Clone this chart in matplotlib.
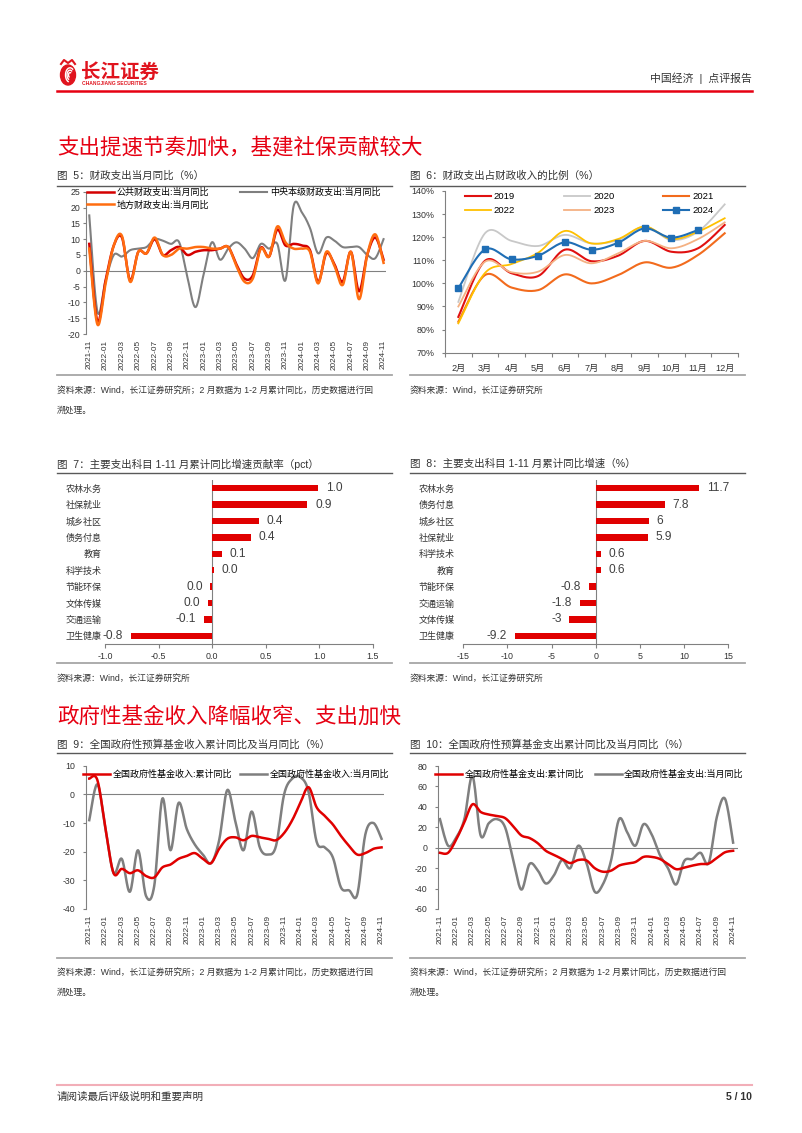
import numpy as np
import pandas as pd
import matplotlib
matplotlib.use('Agg')
import matplotlib.pyplot as plt
from matplotlib.lines import Line2D
from matplotlib.patches import Ellipse, Arc

plt.rcParams['font.family'] = ['Liberation Sans', 'Noto Sans CJK SC']
plt.rcParams['axes.unicode_minus'] = False

# ---------------- data ----------------
months = [p.strftime('%Y-%m') for p in pd.period_range('2021-11', '2024-11', freq='M')]

# Fig 5: 财政支出当月同比 (%)
fiscal_public = [8.5, -16.0, -3.0, 8.0, 10.5, -3.0, 6.0, 5.5, 10.0, 5.0, 6.5, 7.5,
                 5.0, 6.0, 6.5, 6.5, 7.0, 7.5, 2.0, -2.5, -1.5, 7.3, 4.5, 13.0,
                 8.0, 8.5, 8.0, 6.5, -3.5, 5.5, 2.0, -3.5, 6.0, -6.5, 5.0, 10.5, 3.5]
fiscal_central = [17.5, -13.0, -3.0, 5.0, 4.5, 6.5, 7.0, 7.5, 10.0, 9.5, 8.5, 9.0,
                  -2.0, -11.5, -1.0, 9.0, 3.5, 7.0, 9.0, 7.0, 4.0, 8.5, 7.0, 8.5,
                  -3.0, 20.5, 18.5, 13.5, 5.5, 10.5, 9.5, 7.5, 7.5, 7.5, 5.0, 4.0, 10.0]
fiscal_local = [7.0, -17.0, -4.0, 8.0, 11.0, -3.5, 6.0, 5.5, 10.5, 5.0, 5.0, 7.0,
                7.0, 7.5, 7.5, 7.0, 7.0, 7.5, 1.5, -3.5, -2.5, 7.0, 4.5, 14.0,
                9.0, 7.0, 7.0, 6.0, -4.0, 6.0, 1.5, -4.5, 6.0, -9.0, 5.0, 11.5, 2.5]

# Fig 6: 财政支出占财政收入的比例 (%)
ratio_months = ['2月', '3月', '4月', '5月', '6月', '7月', '8月', '9月', '10月', '11月', '12月']
ratio_2019 = [85.5, 109.8, 104.4, 103.2, 114.6, 109.6, 112.0, 118.4, 113.7, 115.2, 125.3]
ratio_2020 = [92.0, 121.7, 118.4, 116.2, 121.0, 117.3, 118.8, 124.6, 118.8, 122.4, 134.2]
ratio_2021 = [83.4, 103.6, 98.2, 97.1, 103.9, 100.0, 103.6, 109.1, 106.8, 112.3, 121.7]
ratio_2022 = [82.7, 104.5, 108.4, 113.3, 122.7, 117.3, 119.2, 124.6, 119.2, 122.4, 128.2]
ratio_2023 = [90.0, 109.4, 104.8, 105.1, 112.3, 108.7, 113.0, 118.4, 115.2, 119.2, 126.4]
ratio_2024 = [97.9, 114.7, 110.4, 112.0, 117.8, 114.6, 117.6, 123.8, 119.8, 123.1]

# Fig 7: 贡献率 (pct)
contrib_cats = ['农林水务', '社保就业', '城乡社区', '债务付息', '教育', '科学技术',
                '节能环保', '文体传媒', '交通运输', '卫生健康']
contrib_vals = [0.99, 0.89, 0.44, 0.36, 0.09, 0.02, -0.015, -0.04, -0.08, -0.76]
contrib_labels = ['1.0', '0.9', '0.4', '0.4', '0.1', '0.0', '0.0', '0.0', '-0.1', '-0.8']

# Fig 8: 累计同比增速 (%)
growth_cats = ['农林水务', '债务付息', '城乡社区', '社保就业', '科学技术', '教育',
               '节能环保', '交通运输', '文体传媒', '卫生健康']
growth_vals = [11.7, 7.8, 6.0, 5.9, 0.6, 0.6, -0.8, -1.8, -3.0, -9.2]
growth_labels = ['11.7', '7.8', '6', '5.9', '0.6', '0.6', '-0.8', '-1.8', '-3', '-9.2']

# Fig 9: 政府性基金收入
fund_rev_cum = [5.5, 5.0, -12.0, -27.5, -26.0, -27.5, -26.5, -28.5, -29.0, -25.5, -24.5, -22.5,
                -21.5, -20.5, -22.5, -24.0, -19.0, -15.5, -15.0, -16.0, -14.5, -15.0, -15.5, -16.0,
                -13.5, -9.0, -3.0, 2.5, -4.5, -7.5, -10.5, -14.5, -18.0, -21.0, -20.5, -19.0, -18.5]
fund_rev_mon = [-9.0, 3.5, -12.0, -27.5, -22.5, -34.0, -19.5, -35.5, -32.0, -1.5, -19.5, -3.0,
                -12.0, -17.5, -21.0, -24.0, -16.0, 1.5, -9.5, -19.5, -6.0, -18.5, -21.0, -18.0,
                0.0, 5.5, 6.0, 1.0, -16.5, -18.5, -22.0, -32.5, -33.5, -35.0, -14.0, -10.0, -15.5]

# Fig 10: 政府性基金支出
fund_exp_cum = [-5.0, -5.0, 8.0, 25.0, 42.5, 35.0, 32.5, 31.0, 29.0, 21.0, 12.0, 9.5,
                4.5, -3.0, -7.0, -11.0, -15.0, -12.0, -12.5, -20.0, -23.5, -22.5, -17.5, -15.5,
                -14.0, -9.0, -9.0, -11.0, -16.0, -21.0, -19.5, -17.5, -16.0, -15.5, -10.0, -4.5, -3.0]
fund_exp_mon = [28.0, 2.0, 10.0, 28.0, 70.0, 12.0, 24.0, 28.0, 20.0, -12.0, -41.0, -16.0,
                -22.0, -35.0, -27.0, -12.0, -20.0, 2.0, -15.0, -43.0, -36.0, -13.0, 28.0, 15.0,
                2.0, 23.0, 13.0, -7.0, -20.0, -36.0, -13.0, -11.0, -5.0, -15.0, 30.0, 48.0, 5.0]

# ---------------- helpers ----------------
W, H = 802, 1133
fig = plt.figure(figsize=(W / 100, H / 100), dpi=100)

RED = '#E60012'
TXT = '#333333'
AXC = '#808080'


def rect(l, t, r, b):
    return [l / W, 1 - b / H, (r - l) / W, (b - t) / H]


def smooth(y, n=16):
    y = np.asarray(y, float)
    x = np.arange(len(y), dtype=float)
    P = np.column_stack([x, y])
    P = np.vstack([P[0], P, P[-1]])
    t = np.linspace(0, 1, n, endpoint=False)[:, None]
    segs = []
    for i in range(1, len(P) - 2):
        p0, p1, p2, p3 = P[i - 1], P[i], P[i + 1], P[i + 2]
        seg = 0.5 * (2 * p1 + (-p0 + p2) * t + (2 * p0 - 5 * p1 + 4 * p2 - p3) * t ** 2
                     + (-p0 + 3 * p1 - 3 * p2 + p3) * t ** 3)
        segs.append(seg)
    segs.append(P[-2][None, :])
    S = np.vstack(segs)
    return S[:, 0], S[:, 1]


# background / page axes (pixel coordinates)
bg = fig.add_axes([0, 0, 1, 1])
bg.set_xlim(0, W)
bg.set_ylim(H, 0)
bg.axis('off')

# logo
bg.add_patch(Ellipse((68, 75), 15, 20, color='#E0141E'))
for r in (9, 6, 3):
    bg.add_patch(Arc((70, 75), r, r * 1.6, theta1=100, theta2=300, color='white', lw=1))
bg.plot([61, 64, 68, 72, 75], [64, 60, 63, 60, 64], color='#E0141E', lw=1.5)
bg.text(81, 72, '长江证券', fontsize=14, fontweight='bold', color='#E0141E', va='center', ha='left',
        family=['Noto Sans CJK SC'])
bg.text(82, 83.5, 'CHANGJIANG SECURITIES', fontsize=3.6, fontweight='bold', color='#E0141E',
        va='center', ha='left')
bg.text(752, 78, '中国经济  |  点评报告', fontsize=7.8, color=TXT, va='center', ha='right')
bg.plot([57, 752], [91, 91], color=RED, lw=1.8)

# section titles
bg.text(57, 148, '支出提速节奏加快，基建社保贡献较大', fontsize=15.5, color=RED, va='center', ha='left')
bg.text(57, 717, '政府性基金收入降幅收窄、支出加快', fontsize=15.5, color=RED, va='center', ha='left')

LEFT = (57, 392)
RIGHT = (410, 745)


def frame(xr, title, t_y, line_y, sep_y, src_y, src_lines):
    bg.text(xr[0], t_y, title, fontsize=7.6, color=TXT, va='center', ha='left')
    bg.plot([xr[0], xr[1]], [line_y, line_y], color='#595959', lw=1.0)
    bg.plot([xr[0], xr[1]], [sep_y, sep_y], color='#A6A6A6', lw=1.3)
    for k, s in enumerate(src_lines):
        bg.text(xr[0], src_y + 20 * k, s, fontsize=6.3, color=TXT, va='center', ha='left')


SRC_LONG = ['资料来源：Wind，长江证券研究所；2 月数据为 1-2 月累计同比，历史数据进行回', '溯处理。']
SRC_SHORT = ['资料来源：Wind，长江证券研究所']

frame(LEFT, '图  5：财政支出当月同比（%）', 176, 186, 375, 390, SRC_LONG)
frame(RIGHT, '图  6：财政支出占财政收入的比例（%）', 176, 186, 375, 390, SRC_SHORT)
frame(LEFT, '图  7：主要支出科目 1-11 月累计同比增速贡献率（pct）', 464, 473, 663, 678, SRC_SHORT)
frame(RIGHT, '图  8：主要支出科目 1-11 月累计同比增速（%）', 464, 473, 663, 678, SRC_SHORT)
frame(LEFT, '图  9：全国政府性预算基金收入累计同比及当月同比（%）', 745, 753, 958, 972, SRC_LONG)
frame(RIGHT, '图  10：全国政府性预算基金支出累计同比及当月同比（%）', 745, 753, 958, 972, SRC_LONG)

# footer
bg.plot([57, 752], [1085, 1085], color='#F2AEB8', lw=1.5)
bg.text(57, 1097, '请阅读最后评级说明和重要声明', fontsize=7.6, color=TXT, va='center', ha='left')
bg.text(752, 1097, '5 / 10', fontsize=7.6, color=TXT, va='center', ha='right', fontweight='bold')


def style_ts(ax, ylim, yticks, ypad):
    ax.set_facecolor('none')
    for s in ('top', 'right', 'bottom'):
        ax.spines[s].set_visible(False)
    ax.spines['left'].set_color(AXC)
    ax.spines['left'].set_linewidth(0.8)
    ax.axhline(0, color=AXC, lw=0.8, zorder=1)
    ax.set_ylim(*ylim)
    ax.set_yticks(yticks)
    ax.tick_params(axis='y', length=2.5, width=0.8, color=AXC, labelsize=6.3, pad=ypad, labelcolor=TXT)
    idx = list(range(0, len(months), 2))
    ax.set_xticks(idx)
    ax.set_xticklabels([months[i] for i in idx], rotation=90)
    ax.tick_params(axis='x', length=0, labelsize=5.9, pad=4, labelcolor=TXT)


# ---------------- Fig 5 ----------------
ax5 = fig.add_axes(rect(86, 191.7, 386, 334))
style_ts(ax5, (-20, 25), range(-20, 26, 5), 1.5)
ax5.set_xlim(-0.4, 36.3)
h1, = ax5.plot(*smooth(fiscal_public), color='#D40000', lw=1.8, label='公共财政支出:当月同比', zorder=3)
h2, = ax5.plot(*smooth(fiscal_central), color='#7F7F7F', lw=1.5, label='中央本级财政支出:当月同比', zorder=2)
h3, = ax5.plot(*smooth(fiscal_local), color='#FF6D10', lw=1.8, label='地方财政支出:当月同比', zorder=4)
ax5.legend([h1, h3, h2], [h1.get_label(), h3.get_label(), h2.get_label()],
           loc='upper left', bbox_to_anchor=(86.7 / W, 1 - 188 / H), bbox_transform=fig.transFigure,
           ncol=2, frameon=False, fontsize=6.5, handlelength=3.0, handletextpad=0.35,
           columnspacing=3.4, labelspacing=0.35, borderpad=0, borderaxespad=0)

# ---------------- Fig 6 ----------------
ax6 = fig.add_axes(rect(445, 191, 738, 352.7))
ax6.set_facecolor('none')
for s in ('top', 'right'):
    ax6.spines[s].set_visible(False)
for s in ('left', 'bottom'):
    ax6.spines[s].set_color(AXC)
    ax6.spines[s].set_linewidth(0.8)
ax6.set_xlim(-0.5, 10.5)
ax6.set_ylim(70, 140)
ax6.set_yticks(range(70, 141, 10))
ax6.set_yticklabels([f'{v}%' for v in range(70, 141, 10)])
ax6.set_xticks(range(len(ratio_months)))
ax6.set_xticklabels(ratio_months)
ax6.set_xticks(np.arange(-0.5, 11, 1), minor=True)
ax6.tick_params(axis='x', which='major', length=0, pad=8, labelsize=6.6, labelcolor=TXT)
ax6.tick_params(axis='x', which='minor', length=3, width=0.8, color=AXC)
ax6.tick_params(axis='y', length=2.5, width=0.8, color=AXC, pad=5, labelsize=6.4, labelcolor=TXT)
series6 = [('2019', ratio_2019, '#E01010', 1.5), ('2020', ratio_2020, '#C8C8C8', 1.3),
           ('2021', ratio_2021, '#F26B1D', 1.5), ('2022', ratio_2022, '#FFC000', 1.3),
           ('2023', ratio_2023, '#F4B183', 1.3)]
handles6 = []
for name, vals, col, lw in series6:
    ax6.plot(*smooth(vals), color=col, lw=lw)
    handles6.append(Line2D([], [], color=col, lw=lw))
ax6.plot(*smooth(ratio_2024), color='#1F6EB5', lw=1.5, zorder=5)
ax6.plot(range(len(ratio_2024)), ratio_2024, ls='none', marker='s', ms=4.6, color='#1F6EB5', zorder=6)
handles6.append(Line2D([], [], color='#1F6EB5', lw=1.5, marker='s', ms=4.6))
labels6 = ['2019', '2020', '2021', '2022', '2023', '2024']
order = [0, 3, 1, 4, 2, 5]
ax6.legend([handles6[i] for i in order], [labels6[i] for i in order],
           loc='upper left', bbox_to_anchor=(465 / W, 1 - 192 / H), bbox_transform=fig.transFigure,
           ncol=3, frameon=False, fontsize=6.8, handlelength=2.7, handletextpad=0.35,
           columnspacing=5.2, labelspacing=0.55, borderpad=0, borderaxespad=0)


# ---------------- bar charts ----------------
def bar_chart(axr, cats, vals, labels, xlim, xticks, xfmt, ypad):
    ax = fig.add_axes(rect(*axr))
    ax.set_facecolor('none')
    n = len(cats)
    ax.barh(range(n), vals, height=0.4, color='#E00000', zorder=3)
    ax.set_ylim(n - 0.5, -0.5)
    ax.set_xlim(*xlim)
    for s in ('top', 'right', 'left'):
        ax.spines[s].set_visible(False)
    ax.spines['bottom'].set_color(AXC)
    ax.spines['bottom'].set_linewidth(0.8)
    ax.axvline(0, color=AXC, lw=0.8, zorder=2)
    ax.set_yticks(range(n))
    ax.set_yticklabels(cats)
    ax.tick_params(axis='y', length=0, pad=ypad, labelsize=6.5, labelcolor=TXT)
    ax.set_xticks(xticks)
    ax.set_xticklabels([xfmt(v) for v in xticks])
    ax.tick_params(axis='x', length=3, width=0.8, color=AXC, labelsize=6.4, pad=3, labelcolor=TXT)
    for i, (v, lab) in enumerate(zip(vals, labels)):
        off = 5.5 if v >= 0 else -5.5
        ax.annotate(lab, (v, i), xytext=(off, 0), textcoords='offset points',
                    ha='left' if v >= 0 else 'right', va='center', fontsize=8.6, color='#404040')
    return ax


bar_chart((105, 480, 372.7, 644), contrib_cats, contrib_vals, contrib_labels,
          (-1.0, 1.5), [-1.0, -0.5, 0.0, 0.5, 1.0, 1.5], lambda v: f'{v:.1f}', 2.5)
bar_chart((463.3, 480, 728.3, 644), growth_cats, growth_vals, growth_labels,
          (-15, 15), [-15, -10, -5, 0, 5, 10, 15], lambda v: f'{v:d}', 6)

# ---------------- Fig 9 ----------------
ax9 = fig.add_axes(rect(86, 765.7, 384, 909))
style_ts(ax9, (-40, 10), range(-40, 11, 10), 5.5)
ax9.set_xlim(-0.4, 36.3)
g1, = ax9.plot(*smooth(fund_rev_mon), color='#7F7F7F', lw=1.8, label='全国政府性基金收入:当月同比', zorder=2)
r1, = ax9.plot(*smooth(fund_rev_cum), color='#E00000', lw=1.8, label='全国政府性基金收入:累计同比', zorder=3)
ax9.legend([r1, g1], [r1.get_label(), g1.get_label()],
           loc='upper left', bbox_to_anchor=(83 / W, 1 - 770 / H), bbox_transform=fig.transFigure,
           ncol=2, frameon=False, fontsize=6.5, handlelength=3.0, handletextpad=0.25,
           columnspacing=0.9, borderpad=0, borderaxespad=0)

# ---------------- Fig 10 ----------------
ax10 = fig.add_axes(rect(438.3, 766, 738, 909))
style_ts(ax10, (-60, 80), range(-60, 81, 20), 5.5)
ax10.set_xlim(-0.2, 36.6)
g2, = ax10.plot(*smooth(fund_exp_mon), color='#7F7F7F', lw=1.8, label='全国政府性基金支出:当月同比', zorder=2)
r2, = ax10.plot(*smooth(fund_exp_cum), color='#E00000', lw=1.8, label='全国政府性基金支出:累计同比', zorder=3)
ax10.legend([r2, g2], [r2.get_label(), g2.get_label()],
            loc='upper left', bbox_to_anchor=(435 / W, 1 - 770 / H), bbox_transform=fig.transFigure,
            ncol=2, frameon=False, fontsize=6.5, handlelength=3.0, handletextpad=0.25,
            columnspacing=1.2, borderpad=0, borderaxespad=0)

fig.savefig('out.png', dpi=100, facecolor='white')
